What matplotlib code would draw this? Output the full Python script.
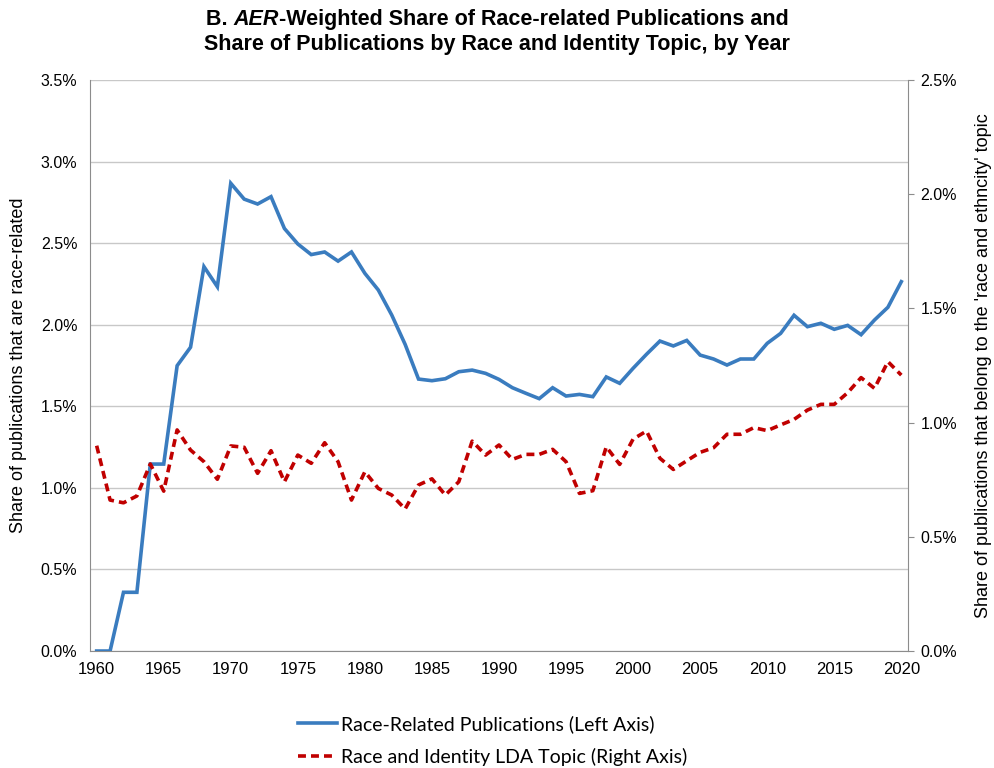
import matplotlib
matplotlib.use("Agg")
import matplotlib.pyplot as plt
from matplotlib.ticker import FuncFormatter, MultipleLocator

years = list(range(1960, 2021))
race_related = [0.0, 0.0, 0.36, 0.36, 1.146, 1.146, 1.749, 1.862, 2.356, 2.233,
                2.867, 2.77, 2.74, 2.785, 2.59, 2.495, 2.43, 2.446, 2.39, 2.446,
                2.315, 2.213, 2.06, 1.88, 1.667, 1.657, 1.669, 1.712, 1.722, 1.702,
                1.665, 1.614, 1.58, 1.547, 1.614, 1.563, 1.573, 1.559, 1.68, 1.641,
                1.733, 1.819, 1.90, 1.87, 1.904, 1.814, 1.79, 1.753, 1.79, 1.79,
                1.886, 1.947, 2.058, 1.988, 2.009, 1.972, 1.996, 1.939, 2.029, 2.107,
                2.264]
lda_topic = [0.899, 0.661, 0.649, 0.679, 0.819, 0.70, 0.968, 0.88, 0.829, 0.752,
             0.898, 0.892, 0.778, 0.877, 0.741, 0.858, 0.822, 0.912, 0.829, 0.661,
             0.785, 0.712, 0.683, 0.622, 0.727, 0.754, 0.683, 0.741, 0.919, 0.858,
             0.902, 0.839, 0.861, 0.861, 0.883, 0.829, 0.69, 0.702, 0.894, 0.817,
             0.928, 0.963, 0.844, 0.795, 0.833, 0.87, 0.89, 0.949, 0.949, 0.978,
             0.965, 0.99, 1.014, 1.055, 1.08, 1.08, 1.131, 1.197, 1.15, 1.267,
             1.208]
xticks = list(range(1960, 2021, 5))

blue = "#3A7CBF"
red = "#C00000"
fam = ["Liberation Sans", "DejaVu Sans"]

fig = plt.figure(figsize=(9.94, 7.68), dpi=100)
ax = fig.add_axes([0.0905, 0.1523, 0.823, 0.7435])
ax2 = ax.twinx()

l1, = ax.plot(years, race_related, color=blue, lw=2.6, solid_joinstyle="miter",
              label="Race-Related Publications (Left Axis)", zorder=3)
l2, = ax2.plot(years, lda_topic, color=red, lw=2.6, ls=(0, (2.2, 1.4)),
               label="Race and Identity LDA Topic (Right Axis)", zorder=3)

ax.set_xlim(1959.5, 2020.5)
ax.set_ylim(0, 3.5)
ax2.set_ylim(0, 2.5)
ax.yaxis.set_major_locator(MultipleLocator(0.5))
ax2.yaxis.set_major_locator(MultipleLocator(0.5))
pct = FuncFormatter(lambda v, p: f"{v:.1f}%")
ax.yaxis.set_major_formatter(pct)
ax2.yaxis.set_major_formatter(pct)
ax.set_xticks(xticks)
ax.grid(axis="y", color="#C8C8C8", lw=1)
ax.set_axisbelow(True)

for a in (ax, ax2):
    for s in a.spines.values():
        s.set_color("#8C8C8C")
    a.spines["top"].set_visible(False)
ax.spines["right"].set_visible(False)
ax2.spines["left"].set_visible(False)
ax2.spines["bottom"].set_visible(False)

ax.tick_params(axis="y", length=0, pad=9, labelsize=11.5, labelcolor="#000")
ax.tick_params(axis="x", length=0, pad=8, labelsize=12)
ax2.tick_params(axis="y", length=4, color="#8C8C8C", pad=5, labelsize=11.5)
for t in ax.get_xticklabels() + ax.get_yticklabels() + ax2.get_yticklabels():
    t.set_fontfamily(fam)

ax.set_ylabel("Share of publications that are race-related", fontsize=13,
              family=fam, labelpad=10)
ax2.set_ylabel("Share of publications that belong to the 'race and ethncity' topic",
               fontsize=13, family=fam, labelpad=13)

# Title with italic AER
fig.canvas.draw()
r = fig.canvas.get_renderer()
tsize = 15.5
parts = [("B. ", "normal"), ("AER", "italic"),
         ("-Weighted Share of Race-related Publications and", "normal")]
texts = []
for s, st in parts:
    t = fig.text(0, 0.974, s, fontsize=tsize, fontweight="bold", style=st,
                 family=fam, va="center", ha="left")
    texts.append(t)
widths = [t.get_window_extent(renderer=r).width for t in texts]
total = sum(widths)
x0 = (fig.bbox.width * 0.5 - total / 2)
for t, w in zip(texts, widths):
    t.set_x(x0 / fig.bbox.width)
    x0 += w
fig.text(0.5, 0.942, "Share of Publications by Race and Identity Topic, by Year",
         fontsize=tsize, fontweight="bold", family=fam, ha="center", va="center")

leg = fig.legend(handles=[l1, l2], loc="center", bbox_to_anchor=(0.4955, 0.036),
                 ncol=1, frameon=False, prop={"family": ["Lato", "DejaVu Sans"], "size": 14},
                 handlelength=2.0, handletextpad=0.2, labelspacing=0.78)

fig.savefig("out.png", dpi=100)
